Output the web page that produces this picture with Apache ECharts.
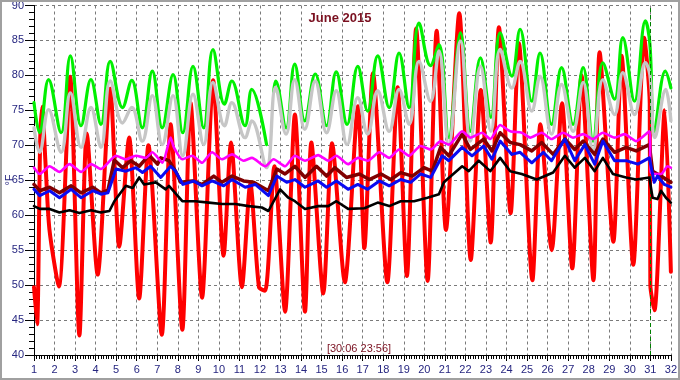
<!DOCTYPE html>
<html><head><meta charset="utf-8">
<script src="https://cdn.jsdelivr.net/npm/echarts@6/dist/echarts.min.js"></script>
<style>html,body{margin:0;padding:0;background:#fff}#c{width:680px;height:380px}</style>
</head><body><div id="c"></div>
<script>
const chartTitle = 'June 2015';
const cursorText = '[30:06 23:56]';
const unitText = '°F';
const xMin = 1, xMax = 32, xStep = 1;
const yMin = 40, yMax = 90, yStep = 5;
const cursorDay = 31;

// [day, °F]
const redSeries = [[1.0,49.7],[1.15,44.4],[1.3,70.6],[1.4,75.5],[1.55,68],[1.75,58],[2.21,49.8],[2.76,79.8],[3.21,42.8],[3.57,71.7],[4.1,51.5],[4.71,78.1],[5.15,55.5],[5.63,71.1],[6.12,48.1],[6.57,70.0],[7.22,42.9],[7.65,73.0],[8.22,43.6],[8.62,76.1],[9.18,48.2],[9.72,79.3],[10.23,54.2],[10.59,70.4],[11.12,49.7],[11.53,64.5],[11.95,49.7],[12.25,49.2],[12.7,67],[13.22,46.2],[13.7,74.4],[14.19,46.2],[14.5,70.4],[15.08,48.8],[15.51,70.3],[16.13,50.4],[16.77,75.6],[17.08,55.3],[17.5,80.3],[18.2,50.4],[18.7,78.3],[19.15,51.3],[19.6,86.7],[20.16,50.6],[20.6,86.4],[21.05,57.9],[21.7,88.9],[22.26,53.6],[22.75,77.9],[23.23,56.1],[23.63,86.9],[24.2,60.3],[24.6,84.6],[25.26,50.7],[25.65,73],[26.2,55],[26.7,76],[27.2,52.4],[27.65,80],[28.23,50.7],[28.53,83.3],[29.2,56.2],[29.6,82.8],[30.17,52.9],[30.7,85.4],[30.97,76],[31.0,50],[31.2,46.4],[31.7,75],[32.0,51.9]];

const greenSeries = [[1.0,76.1],[1.27,71.8],[1.71,79.4],[2.32,71.8],[2.77,82.8],[3.29,72.8],[3.77,79.4],[4.26,73.0],[4.71,82.0],[5.31,75.4],[5.76,79.3],[6.27,72.5],[6.76,80.6],[7.24,72.5],[7.77,80.1],[8.24,71.8],[8.74,81.3],[9.26,72.5],[9.71,83.7],[10.27,75.9],[10.63,79.2],[11.27,72.8],[11.60,78.0],[12.32,70.1],[12.5,null],[12.66,77.5],[12.76,79.2],[13.27,72.5],[13.69,81.6],[14.18,73.5],[14.69,80.2],[15.24,72.8],[15.71,80.5],[16.24,73.0],[16.76,81.3],[17.24,74.9],[17.73,82.8],[18.29,75.4],[18.77,83.2],[19.26,75.4],[19.74,87.5],[20.3,81.4],[20.71,84.4],[21.19,71.1],[21.76,86.1],[22.24,72.0],[22.73,82.5],[23.24,74.0],[23.69,86.1],[24.26,79.9],[24.66,86.6],[25.23,76.3],[25.63,83.2],[26.19,73.0],[26.68,81.1],[27.24,73.0],[27.73,81.1],[28.21,70.6],[28.69,81.8],[29.26,76.6],[29.66,85.4],[30.23,76.3],[30.76,87.8],[30.98,84.4],[31.19,72.0],[31.73,80.6],[32.0,78.2]];

const graySeries = [[1.0,72.5],[1.27,69.0],[1.71,75.1],[2.32,69.0],[2.77,77.5],[3.29,69.7],[3.77,75.4],[4.26,69.7],[4.71,79.2],[5.31,73.2],[5.76,75.4],[6.27,70.6],[6.76,77.1],[7.24,70.1],[7.77,77.1],[8.24,68.5],[8.74,77.3],[9.26,70.1],[9.71,79.0],[10.27,72.8],[10.63,76.1],[11.27,71.1],[11.60,73.5],[12.32,66.8],[12.76,78.3],[13.27,71.6],[13.69,79.4],[14.18,72.3],[14.69,79.2],[15.24,71.8],[15.71,77.8],[16.24,70.1],[16.76,76.8],[17.24,71.6],[17.73,77.8],[18.29,72.0],[18.77,78.0],[19.26,73.0],[19.74,82.0],[20.3,76.3],[20.71,83.5],[21.19,70.1],[21.76,84.9],[22.24,70.6],[22.73,81.3],[23.24,72.0],[23.69,83.7],[24.26,78.2],[24.66,82.0],[25.23,74.9],[25.63,79.9],[26.19,71.6],[26.68,78.7],[27.24,72.0],[27.73,79.0],[28.21,69.2],[28.69,79.4],[29.26,74.4],[29.66,80.4],[30.23,74.4],[30.76,81.8],[30.98,80.1],[31.22,71.1],[31.75,78.0],[32.0,73.5]];

const magentaSeries = [[1.0,66.8],[1.28,65.9],[1.76,67.0],[2.24,66.2],[2.73,67.3],[3.29,66.2],[3.78,67.3],[4.26,66.6],[4.99,68.5],[5.47,68.0],[5.96,68.5],[6.44,68.2],[6.76,69.0],[7.25,67.5],[7.65,71.1],[7.81,69.7],[8.22,68.0],[8.70,68.5],[9.18,67.5],[9.67,69.0],[10.15,68.0],[10.64,68.7],[11.2,67.8],[11.61,68.2],[12.25,67.0],[12.66,68.0],[13.22,67.0],[13.70,68.5],[14.19,67.8],[14.83,68.6],[15.32,67.8],[15.72,68.5],[16.29,67.3],[16.77,68.2],[17.24,67.8],[17.81,69.0],[18.29,68.2],[18.77,69.4],[19.26,68.5],[19.82,69.9],[20.31,69.4],[20.79,70.6],[21.19,70.1],[21.84,72.0],[22.24,71.1],[22.81,71.8],[23.21,70.9],[23.69,72.9],[24.18,72.0],[24.74,71.8],[25.15,71.1],[25.71,71.8],[26.19,70.9],[26.76,71.8],[27.24,71.1],[27.73,71.6],[28.21,70.9],[28.69,71.8],[29.26,71.1],[29.74,71.6],[30.31,70.6],[30.95,72.0],[31.03,66.1],[31.52,65.9],[31.84,67.0],[32.0,66.8]];

const maroonSeries = [[1.0,64.4],[1.28,63.5],[1.76,64.0],[2.24,63.2],[2.81,64.2],[3.29,63.2],[3.86,64.0],[4.26,63.2],[4.6,63.6],[4.91,67.9],[5.31,66.8],[5.71,67.8],[6.12,67.0],[6.6,68.6],[7.01,67.3],[7.17,68.2],[7.57,67.8],[7.89,66.3],[8.14,64.7],[8.70,64.9],[9.18,64.4],[9.75,65.6],[10.15,64.7],[10.64,65.6],[11.2,64.9],[11.69,64.7],[12.41,63.5],[12.82,66.6],[13.22,65.9],[13.70,67.0],[14.19,65.4],[14.75,67.0],[15.24,65.6],[15.64,66.8],[16.21,65.4],[16.84,65.9],[17.32,65.1],[17.89,65.9],[18.37,65.1],[18.85,66.1],[19.42,65.6],[19.98,66.8],[20.39,66.3],[20.79,69.7],[21.19,68.5],[21.84,71.6],[22.24,69.4],[22.89,70.9],[23.29,69.2],[23.69,71.8],[24.18,70.4],[24.66,70.1],[25.23,69.2],[25.71,70.4],[26.27,68.7],[26.84,70.9],[27.32,69.4],[27.73,70.6],[28.29,68.7],[28.69,70.9],[29.26,69.0],[29.82,69.7],[30.31,69.2],[30.95,70.1],[31.11,66.3],[31.52,65.6],[32.0,64.7]];

const blueSeries = [[1.0,63.7],[1.28,62.8],[1.76,63.5],[2.24,62.5],[2.81,63.7],[3.29,62.5],[3.86,63.5],[4.26,63.0],[4.6,63.2],[4.99,66.6],[5.47,66.3],[5.96,66.8],[6.28,66.1],[6.68,67.0],[7.17,65.4],[7.65,67.0],[7.89,66.3],[8.25,64.4],[8.78,64.9],[9.18,64.2],[9.67,64.9],[10.23,64.2],[10.64,65.1],[11.28,64.0],[11.77,64.4],[12.41,62.8],[12.82,65.6],[13.3,64.7],[13.70,65.1],[14.19,64.0],[14.83,64.9],[15.24,64.0],[15.72,64.9],[16.29,63.7],[16.76,64.4],[17.24,63.7],[17.81,64.9],[18.29,64.2],[18.85,65.1],[19.34,64.7],[19.82,65.9],[20.31,65.4],[20.87,68.5],[21.19,67.8],[21.84,69.7],[22.32,68.5],[22.89,69.9],[23.29,68.0],[23.69,70.6],[24.26,68.7],[24.66,69.0],[25.23,67.5],[25.79,69.0],[26.19,67.8],[26.84,70.9],[27.32,67.8],[27.81,70.1],[28.29,67.3],[28.69,70.6],[29.26,67.8],[29.82,67.8],[30.39,67.3],[30.95,68.2],[31.19,64.7],[31.35,65.6],[31.68,64.4],[32.0,64.0]];

const blackSeries = [[1.0,61.3],[1.28,60.9],[1.76,60.9],[2.24,60.4],[2.73,60.7],[3.21,60.3],[3.78,60.7],[4.26,60.4],[4.67,60.6],[4.91,62.0],[5.47,64.2],[5.80,63.9],[6.12,65.4],[6.36,64.4],[6.93,64.7],[7.41,63.7],[7.57,64.2],[8.22,62.0],[8.86,62.0],[9.51,61.8],[10.15,61.6],[10.8,61.6],[11.45,61.3],[12.09,61.1],[12.41,60.6],[12.98,63.7],[13.38,62.5],[13.70,62.0],[14.19,60.9],[14.83,61.3],[15.32,61.3],[15.72,62.0],[16.29,60.9],[17.08,61.0],[17.73,61.8],[18.29,61.3],[18.85,62.0],[19.5,62.0],[20.15,62.5],[20.71,63.0],[20.95,64.7],[21.84,67.0],[22.16,66.3],[22.65,67.8],[23.21,66.3],[23.69,68.2],[24.18,66.3],[24.74,65.9],[25.47,65.1],[26.27,66.1],[26.84,68.5],[27.32,66.8],[27.81,68.2],[28.29,66.3],[28.69,68.2],[29.18,65.9],[29.82,65.4],[30.31,65.1],[30.95,65.4],[31.11,62.5],[31.35,62.3],[31.52,63.5],[31.76,62.5],[32.0,61.8]];

function toData(a) { return a.map(p => p[1] == null ? [p[0], '-'] : [p[0], p[1]]); }

const labelColor = '#262680';
const chart = echarts.init(document.getElementById('c'), null, { renderer: 'canvas' });

function line(name, data, color, width, smooth, z) {
  return { name, type: 'line', data: toData(data), showSymbol: false, symbol: 'none',
    smooth: smooth, connectNulls: false, z: z,
    lineStyle: { color, width, cap: 'round', join: 'round' }, itemStyle: { color }, animation: false };
}

const redLine = line('red', redSeries, '#ff0000', 4, 0.25, 2);
redLine.markLine = { silent: true, symbol: 'none', label: { show: false },
  lineStyle: { color: '#008000', type: [4, 3], width: 1 }, data: [{ xAxis: cursorDay }] };

const option = {
  animation: false,
  backgroundColor: '#ffffff',
  grid: { left: 34, right: 6, top: 5, bottom: 25, containLabel: false },
  xAxis: {
    type: 'value', min: xMin, max: xMax, interval: xStep,
    axisLine: { show: true, onZero: false, lineStyle: { color: '#000', width: 1 } },
    axisTick: { show: true, length: 6, lineStyle: { color: '#000' } },
    minorTick: { show: true, splitNumber: 8, length: 4, lineStyle: { color: '#000' } },
    axisLabel: { color: labelColor, fontSize: 11, fontFamily: 'Liberation Sans', margin: 9 },
    splitLine: { show: true, lineStyle: { color: '#7a7a7a', type: [3, 3], width: 1 } }
  },
  yAxis: {
    type: 'value', min: yMin, max: yMax, interval: yStep,
    axisLine: { show: true, onZero: false, lineStyle: { color: '#000', width: 1 } },
    axisTick: { show: true, length: 9, lineStyle: { color: '#000' } },
    minorTick: { show: true, splitNumber: 5, length: 5, lineStyle: { color: '#000' } },
    axisLabel: { color: labelColor, fontSize: 11, fontFamily: 'Liberation Sans', margin: 10 },
    splitLine: { show: true, lineStyle: { color: '#7a7a7a', type: [3, 3], width: 1 } }
  },
  graphic: [
    { type: 'rect', silent: true, z: 100, shape: { x: 1, y: 1, width: 678, height: 378 },
      style: { fill: 'none', stroke: '#a0a0a0', lineWidth: 2 } },
    { type: 'text', silent: true, z: 100, x: 340, y: 18,
      style: { text: chartTitle, fill: '#7a1020', font: 'bold 13px "Liberation Sans"', textAlign: 'center', textVerticalAlign: 'middle' } },
    { type: 'text', silent: true, z: 100, x: 359, y: 349,
      style: { text: cursorText, fill: '#7a1020', font: '11px "Liberation Sans"', textAlign: 'center', textVerticalAlign: 'middle' } },
    { type: 'text', silent: true, z: 100, x: 10, y: 180, rotation: Math.PI / 2,
      style: { text: unitText, fill: labelColor, font: '11px "Liberation Sans"', textAlign: 'center', textVerticalAlign: 'middle' } }
  ],
  series: [
    redLine,
    line('green', greenSeries, '#00f000', 3.2, 0.4, 3),
    line('gray', graySeries, '#c6c6c6', 3.4, 0.4, 4),
    line('maroon', maroonSeries, '#800000', 3.5, false, 5),
    line('magenta', magentaSeries, '#ff00ff', 2.6, 0.2, 6),
    line('blue', blueSeries, '#0a0af0', 3, false, 7),
    line('black', blackSeries, '#000000', 2.6, false, 8)
  ]
};
chart.setOption(option);
</script></body></html>
